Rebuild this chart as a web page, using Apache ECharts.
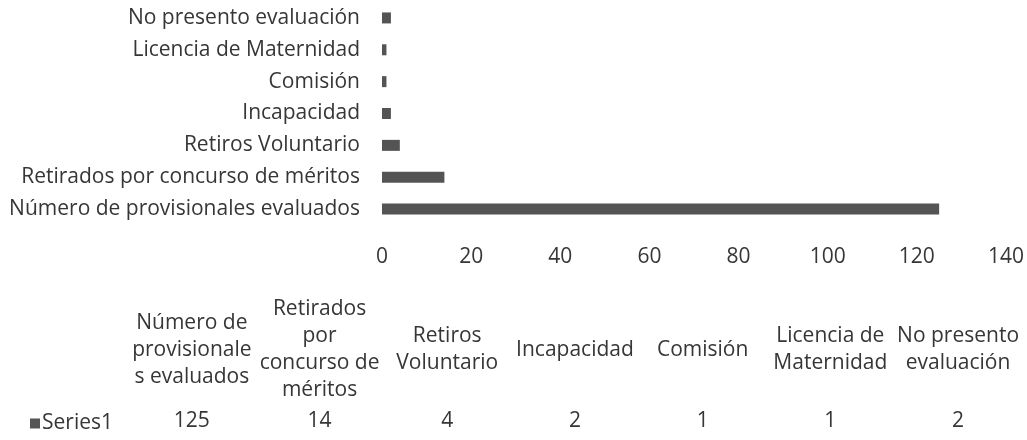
<!DOCTYPE html>
<html>
<head>
<meta charset="utf-8">
<script src="https://cdn.jsdelivr.net/npm/echarts@6/dist/echarts.min.js"></script>
<style>
html,body{margin:0;padding:0;background:#fff;}
#chart{width:1027px;height:440px;}
</style>
</head>
<body>
<div id="chart"></div>
<script>
// Categories listed bottom-to-top on the bar axis (same order as the data table left-to-right)
const categories = [
  'Número de provisionales evaluados',
  'Retirados por concurso de méritos',
  'Retiros Voluntario',
  'Incapacidad',
  'Comisión',
  'Licencia de Maternidad',
  'No presento evaluación'
];
const seriesName = 'Series1';
const values = [125, 14, 4, 2, 1, 1, 2];
// Data-table column headers (wrapped as in the reference)
const tableHeaders = [
  'Número de\nprovisionale\ns evaluados',
  'Retirados\npor\nconcurso de\nméritos',
  'Retiros\nVoluntario',
  'Incapacidad',
  'Comisión',
  'Licencia de\nMaternidad',
  'No presento\nevaluación'
];
const xMin = 0, xMax = 140, xStep = 20;

const FONT = '"Open Sans", sans-serif';
const TXT = '#363636';
const BAR = '#545454';
const FS = 21;

const chart = echarts.init(document.getElementById('chart'), null, {renderer: 'canvas'});

// data table layout
const colStart = 128, colWidth = 127.7;
const headerCenterY = 350, lineH = 27, valueY = 421;
const graphics = [];
tableHeaders.forEach((h, i) => {
  const cx = colStart + colWidth * (i + 0.5);
  graphics.push({
    type: 'text', x: cx, y: headerCenterY,
    style: {text: h, fill: TXT, font: FS + 'px ' + FONT, align: 'center', verticalAlign: 'middle', lineHeight: lineH}
  });
  graphics.push({
    type: 'text', x: cx, y: valueY,
    style: {text: String(values[i]), fill: TXT, font: FS + 'px ' + FONT, align: 'center', verticalAlign: 'middle'}
  });
});

chart.setOption({
  animation: false,
  backgroundColor: '#ffffff',
  textStyle: {fontFamily: FONT},
  grid: {left: 382, right: 20, top: 2, bottom: 215, containLabel: false},
  legend: {
    data: [seriesName], left: 25, top: 408, icon: 'rect', itemWidth: 10, itemHeight: 10, itemGap: 4,
    textStyle: {color: TXT, fontSize: FS, fontFamily: FONT, padding: [0, 0, 0, -3]}
  },
  xAxis: {
    type: 'value', min: xMin, max: xMax, interval: xStep,
    axisLine: {show: false}, axisTick: {show: false}, splitLine: {show: false},
    axisLabel: {color: TXT, fontSize: FS, fontFamily: FONT, margin: 22}
  },
  yAxis: {
    type: 'category', data: categories,
    axisLine: {show: false}, axisTick: {show: false}, splitLine: {show: false},
    axisLabel: {color: TXT, fontSize: FS, fontFamily: FONT, margin: 22}
  },
  series: [{
    name: seriesName, type: 'bar', data: values, barWidth: 11,
    itemStyle: {color: BAR}
  }],
  graphic: graphics
});
</script>
</body>
</html>
